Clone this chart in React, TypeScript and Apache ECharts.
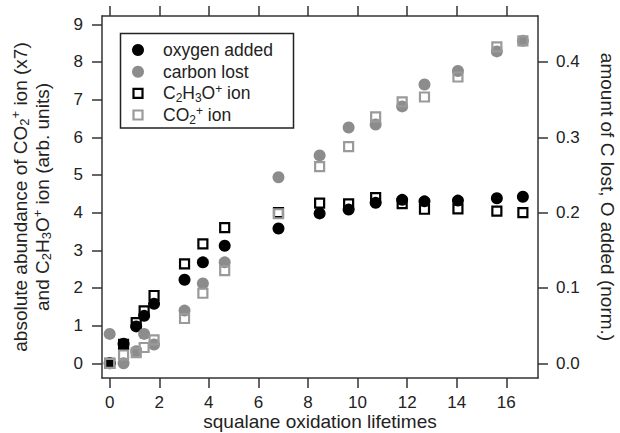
import React, { useEffect, useRef } from "react";
import * as echarts from "echarts";

// squalane oxidation lifetimes (x values)
const lifetimes = [0, 0.56, 1.07, 1.39, 1.79, 3.02, 3.76, 4.64, 6.81, 8.47, 9.64, 10.73, 11.8, 12.7, 14.05, 15.62, 16.67];
// right axis (norm.)
const oxygenAdded = [0, 0.026, 0.049, 0.063, 0.079, 0.111, 0.134, 0.156, 0.179, 0.199, 0.204, 0.213, 0.217, 0.215, 0.216, 0.219, 0.221];
const carbonLost = [0.039, 0, 0.016, 0.039, 0.025, 0.07, 0.106, 0.134, 0.247, 0.276, 0.313, 0.317, 0.341, 0.37, 0.388, 0.414, 0.428];
// left axis (arb. units)
const c2h3oIon = [0, 0.5, 1.08, 1.39, 1.8, 2.64, 3.17, 3.6, 4.0, 4.25, 4.23, 4.4, 4.24, 4.09, 4.1, 4.04, 4.0];
const co2Ion = [0, 0.22, 0.28, 0.42, 0.62, 1.19, 1.86, 2.46, 3.97, 5.22, 5.75, 6.54, 6.94, 7.07, 7.6, 8.4, 8.56];

const xTicks = [0, 2, 4, 6, 8, 10, 12, 14, 16];
const leftTicks = [0, 1, 2, 3, 4, 5, 6, 7, 8, 9];
const rightTicks = [0, 0.1, 0.2, 0.3, 0.4];

const legendLabels = [
  "oxygen added",
  "carbon lost",
  "C{sub|2}H{sub|3}O{sup|+} ion",
  "CO{sub|2}{sup|+} ion",
];

const FONT = "'Liberation Sans', Arial, Helvetica, sans-serif";
const TXT = "#222";
const AXIS = "#333";
const GRAY = "#8c8c8c";
const GRAY_SQ = "#9a9a9a";

function richFor(size: number) {
  const sub = Math.round(size * 0.7);
  return {
    sub: { fontSize: sub, lineHeight: sub, verticalAlign: "bottom", fontFamily: FONT, color: TXT },
    sup: { fontSize: sub, lineHeight: sub, verticalAlign: "top", fontFamily: FONT, color: TXT },
  };
}

export default function App() {
  const ref = useRef<HTMLDivElement>(null);

  useEffect(() => {
    if (!ref.current) return;
    const chart = echarts.init(ref.current, undefined, { renderer: "svg" });

    const pts = (ys: number[]) => lifetimes.map((x, i) => [x, ys[i]]);

    const mkLine = () => ({ show: true, onZero: false, lineStyle: { color: AXIS, width: 1.5 } });
    const mkTick = (vals: number[]) => ({
      show: true,
      inside: false,
      length: 10,
      lineStyle: { color: AXIS, width: 1.5 },
      customValues: vals,
    });

    const legendRows = [50, 71.7, 93.3, 115];
    const mx = 138;
    const sq = 9;

    const option: any = {
      animation: false,
      backgroundColor: "#fff",
      grid: { left: 102, right: 82, top: 16, bottom: 55, containLabel: false, outerBoundsMode: "none" },
      xAxis: [
        {
          type: "value",
          position: "bottom",
          min: -0.31,
          max: 17.28,
          axisLine: mkLine(),
          axisTick: mkTick(xTicks),
          axisLabel: {
            customValues: xTicks,
            margin: 16,
            fontSize: 17,
            lineHeight: 17,
            fontFamily: FONT,
            color: TXT,
          },
          splitLine: { show: false },
          name: "squalane oxidation lifetimes",
          nameLocation: "middle",
          nameGap: 34,
          nameMoveOverlap: false,
          nameTextStyle: { fontSize: 19, lineHeight: 19, fontFamily: FONT, color: TXT },
        },
        {
          type: "value",
          position: "top",
          min: -0.31,
          max: 17.28,
          axisLine: mkLine(),
          axisTick: mkTick(xTicks),
          axisLabel: { show: false },
          splitLine: { show: false },
        },
      ],
      yAxis: [
        {
          type: "value",
          position: "left",
          min: -0.39,
          max: 9.22,
          axisLine: mkLine(),
          axisTick: mkTick(leftTicks),
          axisLabel: {
            customValues: leftTicks,
            margin: 19,
            fontSize: 17,
            fontFamily: FONT,
            color: TXT,
          },
          splitLine: { show: false },
          name:
            "absolute abundance of CO{sub|2}{sup|+} ion (x7)\nand C{sub|2}H{sub|3}O{sup|+} ion (arb. units)",
          nameLocation: "middle",
          nameRotate: 90,
          nameGap: 49,
          nameTextStyle: {
            fontSize: 19,
            lineHeight: 22,
            fontFamily: FONT,
            color: TXT,
            rich: richFor(19),
          },
        },
        {
          type: "value",
          position: "right",
          min: -0.0195,
          max: 0.461,
          axisLine: mkLine(),
          axisTick: mkTick(rightTicks),
          axisLabel: {
            customValues: rightTicks,
            margin: 18,
            fontSize: 17,
            fontFamily: FONT,
            color: TXT,
            formatter: (v: number) => v.toFixed(1),
          },
          splitLine: { show: false },
          name: "amount of C lost, O added (norm.)",
          nameLocation: "middle",
          nameRotate: -90,
          nameGap: 60,
          nameTextStyle: { fontSize: 19, fontFamily: FONT, color: TXT },
        },
      ],
      series: [
        {
          name: "oxygen added",
          type: "scatter",
          xAxisIndex: 0,
          yAxisIndex: 1,
          symbol: "circle",
          symbolSize: 12,
          itemStyle: { color: "#000", opacity: 1 },
          data: pts(oxygenAdded),
          silent: true,
        },
        {
          name: "carbon lost",
          type: "scatter",
          xAxisIndex: 0,
          yAxisIndex: 1,
          symbol: "circle",
          symbolSize: 12,
          itemStyle: { color: GRAY, opacity: 1 },
          data: pts(carbonLost),
          silent: true,
        },
        {
          name: "C2H3O+ ion",
          type: "scatter",
          xAxisIndex: 0,
          yAxisIndex: 0,
          symbol: "rect",
          symbolSize: sq,
          itemStyle: { color: "rgba(0,0,0,0)", borderColor: "#000", borderWidth: 2.2, opacity: 1 },
          data: pts(c2h3oIon),
          silent: true,
        },
        {
          name: "CO2+ ion",
          type: "scatter",
          xAxisIndex: 0,
          yAxisIndex: 0,
          symbol: "rect",
          symbolSize: sq,
          itemStyle: { color: "rgba(0,0,0,0)", borderColor: GRAY_SQ, borderWidth: 2.2, opacity: 1 },
          data: pts(co2Ion),
          silent: true,
        },
      ],
      graphic: [
        {
          type: "group",
          z: 100,
          children: [
            {
              type: "rect",
              shape: { x: 120.5, y: 33.5, width: 173, height: 94.5 },
              style: { fill: "#fff", stroke: "#222", lineWidth: 1.5 },
            },
            { type: "circle", shape: { cx: mx, cy: legendRows[0], r: 6 }, style: { fill: "#000" } },
            { type: "circle", shape: { cx: mx, cy: legendRows[1], r: 6 }, style: { fill: GRAY } },
            {
              type: "rect",
              shape: { x: mx - sq / 2, y: legendRows[2] - sq / 2, width: sq, height: sq },
              style: { fill: "none", stroke: "#000", lineWidth: 2.2 },
            },
            {
              type: "rect",
              shape: { x: mx - sq / 2, y: legendRows[3] - sq / 2, width: sq, height: sq },
              style: { fill: "none", stroke: GRAY_SQ, lineWidth: 2.2 },
            },
            ...legendLabels.map((t, i) => ({
              type: "text",
              x: 163,
              y: legendRows[i],
              style: {
                text: t,
                fontSize: 17.5,
                lineHeight: 21,
                fontFamily: FONT,
                fill: TXT,
                verticalAlign: "middle",
                align: "left",
                rich: richFor(17.5),
              },
            })),
          ],
        },
      ],
    };

    chart.setOption(option);
    return () => chart.dispose();
  }, []);

  return (
    <div
      ref={ref}
      style={{ position: "absolute", left: 0, top: 0, width: 620, height: 433 }}
    />
  );
}
